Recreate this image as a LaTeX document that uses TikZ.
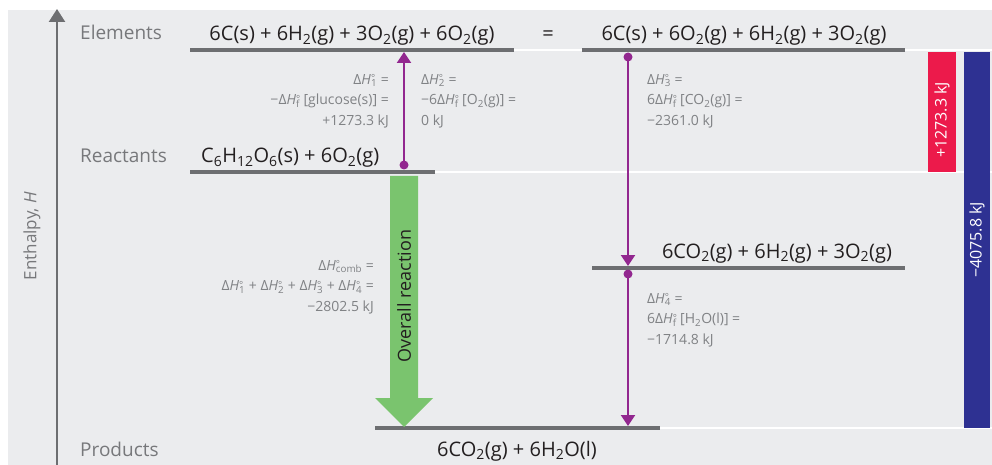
\documentclass[tikz,border=0pt]{standalone}
\usepackage{fontspec}
\setmainfont{Open Sans}
\usetikzlibrary{arrows.meta}
\definecolor{bgc}{HTML}{EBECEE}
\definecolor{lvlc}{HTML}{6D6E71}
\definecolor{labc}{HTML}{808285}
\definecolor{sidec}{HTML}{77787B}
\definecolor{pur}{HTML}{92278F}
\definecolor{grn}{HTML}{7AC46E}
\definecolor{redb}{HTML}{EC1A4B}
\definecolor{blueb}{HTML}{2E3192}
\definecolor{ink}{HTML}{231F20}
\newcommand\dH[1]{Δ\textit{H}\rlap{\raisebox{-0.35ex}{\textsuperscript{°}}}\textsubscript{#1}}
\newcommand\dHf{Δ\textit{H}\rlap{\raisebox{-0.35ex}{\textsuperscript{°}}}\textsubscript{f}}
\newcommand\sub[1]{\textsubscript{#1}}
\begin{document}
\begin{tikzpicture}[x=1pt,y=-1pt,
  lvl/.style={line width=4.5pt, draw=lvlc},
  guide/.style={line width=1.5pt, draw=white},
  lab/.style={text=labc, font=\fontsize{14}{20.7}\selectfont, inner sep=0pt},
  eq/.style={text=ink, font=\fontsize{20}{22}\selectfont, inner sep=0pt, anchor=base},
  side/.style={text=sidec, font=\fontsize{19}{21}\selectfont, anchor=base west, inner sep=0pt},
  parr/.style={draw=pur, line width=2pt, -{Triangle[width=14pt,length=11pt]}},
  pdot/.style={fill=pur},
  vbar/.style={text=white, font=\fontsize{16}{18}\selectfont, rotate=90, inner sep=0pt}]
\useasboundingbox (0,0) rectangle (992,465);
\fill[bgc] (8,10) rectangle (992,465);
% level coordinates
\coordinate (E1a) at (190,50); \coordinate (E1b) at (514,50);
\coordinate (E2a) at (582,50); \coordinate (E2b) at (905,50);
\coordinate (Ra) at (190,172); \coordinate (Rb) at (435,172);
\coordinate (Ia) at (592,268); \coordinate (Ib) at (905,268);
\coordinate (Pa) at (375,428); \coordinate (Pb) at (660,428);
\coordinate (G1) at (992,50); \coordinate (G2) at (992,172); \coordinate (G3) at (992,428);
% guide lines
\draw[guide] (E1b) -- (E2a);
\draw[guide] (E2b) -- (G1);
\draw[guide] (Rb) -- (G2);
\draw[guide] (Pb) -- (G3);
% axis
\coordinate (Abot) at (57,465); \coordinate (Atop) at (57,9);
\draw[draw=lvlc, line width=2.5pt, -{Triangle[width=16pt,length=13pt]}] (Abot) -- (Atop);
\node[text=sidec, font=\fontsize{17}{19}\selectfont, rotate=90, inner sep=0pt] (ylab) at (32,236) {Enthalpy, \textit{H}};
% side labels
\node[side] (lE) at (80,40) {Elements};
\node[side] (lR) at (80,163) {Reactants};
\node[side] (lP) at (80,456) {Products};
% level lines
\draw[lvl] (E1a) -- (E1b);
\draw[lvl] (E2a) -- (E2b);
\draw[lvl] (Ra) -- (Rb);
\draw[lvl] (Ia) -- (Ib);
\draw[lvl] (Pa) -- (Pb);
% equations
\node[eq] (eqE1) at (352,41) {6C(s) + 6H\sub{2}(g) + 3O\sub{2}(g) + 6O\sub{2}(g)};
\node[eq] (eqeq) at (548,41) {=};
\node[eq] (eqE2) at (744,41) {6C(s) + 6O\sub{2}(g) + 6H\sub{2}(g) + 3O\sub{2}(g)};
\node[eq, anchor=base west] (eqR) at (201,163) {C\sub{6}H\sub{12}O\sub{6}(s) + 6O\sub{2}(g)};
\node[eq] (eqI) at (777,258) {6CO\sub{2}(g) + 6H\sub{2}(g) + 3O\sub{2}(g)};
\node[eq] (eqP) at (517,456) {6CO\sub{2}(g) + 6H\sub{2}O(l)};
% green overall arrow
\fill[grn] (390,176) -- (418,176) -- (418,398) -- (433,398) -- (404,427) -- (375,398) -- (390,398) -- cycle;
\node[font=\fontsize{18}{20}\selectfont, rotate=90, inner sep=0pt, text=ink] (ovr) at (404,296) {Overall reaction};
% purple arrows
\coordinate (a1s) at (404,165); \coordinate (a1e) at (404,52);
\coordinate (a3s) at (628,57); \coordinate (a3e) at (628,266);
\coordinate (a4s) at (628,274); \coordinate (a4e) at (628,426);
\fill[pdot] (a1s) circle (4.5pt);
\draw[parr] (a1s) -- (a1e);
\fill[pdot] (a3s) circle (4.5pt);
\draw[parr] (a3s) -- (a3e);
\fill[pdot] (a4s) circle (4.5pt);
\draw[parr] (a4s) -- (a4e);
% enthalpy labels
\node[lab, anchor=north east, align=right] (L1) at (389,74) {\dH{1} =\\ −\dHf\ [glucose(s)] =\\ +1273.3 kJ};
\node[lab, anchor=north west, align=left] (L2) at (421,74) {\dH{2} =\\ −6\dHf\ [O\sub{2}(g)] =\\ 0 kJ};
\node[lab, anchor=north west, align=left] (L3) at (647,74) {\dH{3} =\\ 6\dHf\ [CO\sub{2}(g)] =\\ −2361.0 kJ};
\node[lab, anchor=north west, align=left] (L4) at (647,293) {\dH{4} =\\ 6\dHf\ [H\sub{2}O(l)] =\\ −1714.8 kJ};
\node[lab, anchor=north east, align=right] (Lc) at (374,260) {\dH{comb} =\\ \dH{1} + \dH{2} + \dH{3} + \dH{4} =\\ −2802.5 kJ};
% bars
\fill[redb] (928,52) rectangle (956,172);
\node[vbar] (rtxt) at (942,120) {+1273.3 kJ};
\fill[blueb] (964,52) rectangle (990,428);
\node[vbar] (btxt) at (977,240) {−4075.8 kJ};
\end{tikzpicture}
\end{document}
